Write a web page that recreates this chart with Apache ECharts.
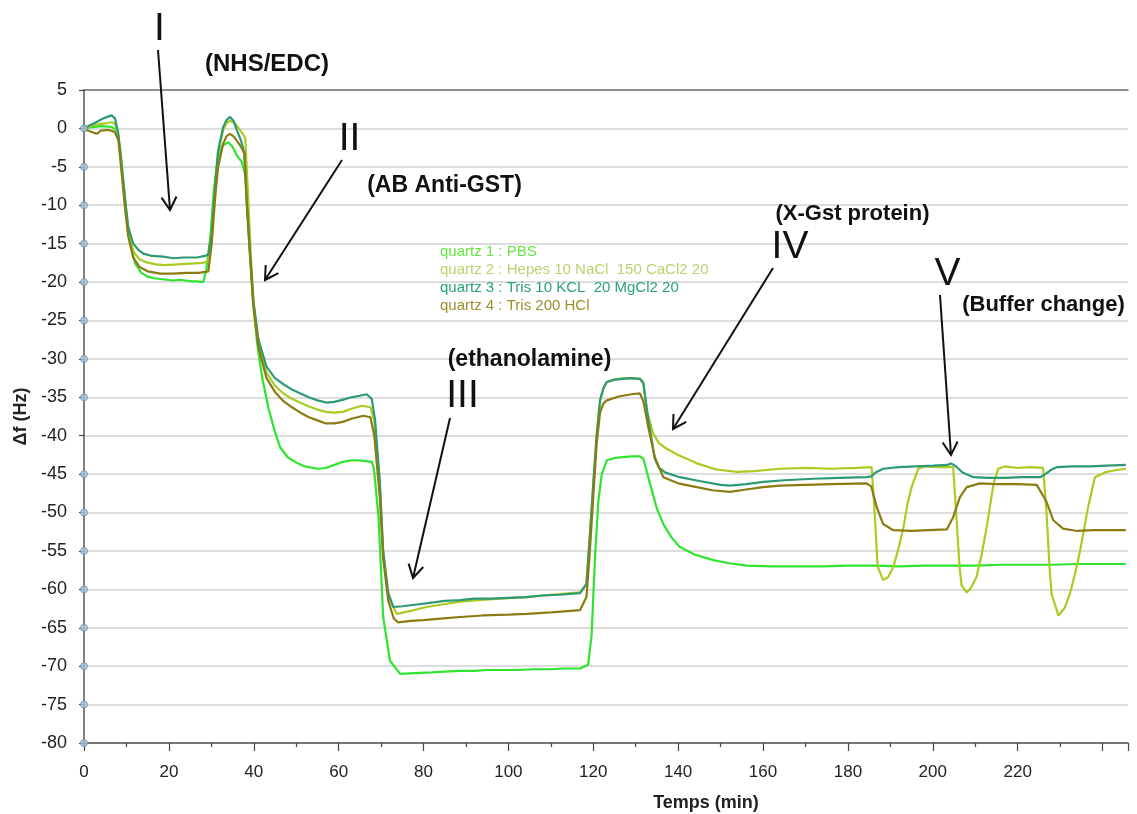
<!DOCTYPE html>
<html>
<head>
<meta charset="utf-8">
<script src="https://cdn.jsdelivr.net/npm/echarts@6/dist/echarts.min.js"></script>
<style>
html,body{margin:0;padding:0;background:#fff;}
#chart{width:1137px;height:814px;}
</style>
</head>
<body>
<div id="chart"></div>
<script>
// ---- data (time in min, Δf in Hz) ----
const seriesNames = [
  'quartz 1 : PBS',
  'quartz 2 : Hepes 10 NaCl  150 CaCl2 20',
  'quartz 3 : Tris 10 KCL  20 MgCl2 20',
  'quartz 4 : Tris 200 HCl'
];
const q1Data = [[0,0],[1,0.1],[2.5,0.2],[4,0.3],[6.5,0.2],[7.5,-0.2],[8.5,-2.5],[9.3,-7],[10.1,-11.5],[10.9,-15],[12,-17.5],[13.5,-18.8],[15,-19.3],[16.5,-19.5],[18,-19.6],[19.5,-19.7],[21,-19.8],[22.5,-19.7],[24,-19.8],[25.5,-19.9],[26.5,-19.9],[28.1,-20],[28.8,-18.5],[29.8,-14],[30.6,-8],[31.5,-4],[32.5,-2.3],[34,-1.8],[35,-2.4],[36,-3.5],[37.2,-4.4],[38.2,-6.5],[39,-15],[39.8,-22.5],[40.8,-28],[42,-32.5],[43.5,-36.5],[45,-39.5],[46.2,-41.5],[48,-42.8],[50,-43.5],[52,-44],[55,-44.3],[57,-44.2],[59,-43.8],[61,-43.4],[63,-43.2],[65,-43.2],[67.8,-43.4],[68.3,-44.2],[69.4,-50.6],[70.5,-63.6],[72.1,-69.3],[74.5,-71],[78,-70.9],[82,-70.8],[85,-70.7],[88.6,-70.6],[92,-70.6],[95,-70.5],[99,-70.5],[102,-70.5],[106,-70.4],[110,-70.4],[113,-70.3],[116.9,-70.3],[118.8,-69.8],[119.6,-66],[120.4,-56],[121.2,-48.5],[122,-45],[123.2,-43.2],[125,-42.9],[127,-42.8],[129,-42.7],[131,-42.7],[131.8,-43],[133.4,-46.3],[135,-49.5],[136.5,-51.5],[138.5,-53.3],[140.4,-54.5],[144,-55.5],[148.3,-56.2],[152,-56.6],[156.1,-56.9],[162,-57],[168,-57],[174,-57],[180,-56.9],[186.8,-56.9],[192,-57],[198,-56.9],[204,-56.9],[210,-56.9],[216,-56.8],[222,-56.8],[228,-56.8],[234,-56.7],[240,-56.7],[245.5,-56.7]];
const q2Data = [[0,0],[1,0.2],[2.2,0.4],[4,0.6],[5.5,0.7],[6.5,0.8],[7.3,0.6],[8.1,-1],[8.9,-5.5],[9.7,-10],[10.4,-13.5],[11.6,-16],[13,-17],[14.5,-17.4],[17,-17.7],[19,-17.8],[22,-17.7],[25,-17.6],[28,-17.5],[29.3,-17.3],[30.1,-14],[30.9,-7.5],[31.6,-3.2],[32.8,-0.2],[33.6,0.7],[34.4,1],[35.5,0.7],[36.5,0],[37.5,-0.8],[38,-1.2],[38.6,-8],[39.3,-16.5],[40,-23],[41.2,-28.2],[43,-31.8],[45,-33.5],[47,-34.5],[49,-35.2],[51,-35.7],[53,-36.2],[55,-36.6],[57,-36.9],[59,-37],[61,-36.9],[63,-36.5],[65.5,-36.1],[67.5,-36.3],[68.4,-38],[69.7,-46.5],[70.5,-55.5],[71.7,-61],[73.7,-63.2],[77,-62.8],[80.7,-62.3],[84,-62],[88.6,-61.6],[93,-61.4],[98,-61.2],[104,-61],[110,-60.7],[116.9,-60.4],[118.4,-59.3],[119.2,-53],[120,-46.3],[120.8,-40],[121.6,-35.4],[122.4,-33.8],[123.2,-33],[125,-32.7],[127,-32.5],[129,-32.5],[131,-32.6],[131.8,-33],[132.6,-36.7],[134.1,-39.7],[135.5,-41],[137.3,-41.7],[140,-42.5],[144.4,-43.6],[149,-44.4],[153.8,-44.7],[158,-44.6],[164,-44.3],[170,-44.2],[176,-44.3],[182,-44.2],[185.6,-44.1],[186.3,-50],[187,-57],[188.3,-58.8],[189.5,-58.4],[190.7,-57.1],[192,-54.5],[193.1,-51.9],[194,-49],[195,-46.7],[196.6,-44.3],[198,-44],[201,-44.1],[204.8,-44.1],[205.5,-50],[206.3,-57],[206.8,-59.5],[208,-60.4],[209,-59.8],[210.3,-58.4],[211.5,-55.5],[212.7,-51.9],[214.3,-46.3],[215.4,-44.3],[217,-44],[220,-44.2],[223,-44.1],[226,-44.2],[226.8,-50],[227.5,-57],[228,-60.6],[229.6,-63.4],[231,-62.5],[232.3,-60.6],[233.5,-58],[234.7,-55],[235.7,-52],[236.6,-49.3],[238.2,-45.4],[241,-44.7],[243,-44.5],[245.5,-44.3]];
const q3Data = [[0,0],[1,0.3],[2.2,0.6],[3.5,1],[4.5,1.3],[5.5,1.5],[6.5,1.7],[7.3,1.3],[8.1,-0.7],[8.9,-5],[9.7,-9.4],[10.4,-12.8],[11.6,-15],[12.8,-15.8],[14,-16.3],[16,-16.6],[18.7,-16.7],[21,-16.9],[23.5,-16.8],[26.6,-16.8],[28.5,-16.6],[29.3,-16.4],[30.1,-13.7],[30.9,-7.2],[31.6,-2.9],[32.8,0.2],[33.6,1.1],[34.4,1.5],[35.2,1],[36,-0.2],[37,-1.6],[37.8,-3.2],[38.3,-9],[39.1,-16],[39.9,-22.4],[41.1,-27.5],[43,-31],[45,-32.5],[47,-33.3],[49,-34],[51,-34.5],[53,-35],[55,-35.4],[57.2,-35.7],[59,-35.6],[61.1,-35.3],[63,-35],[65,-34.8],[66.6,-34.6],[67.8,-35.2],[68.6,-38],[69.7,-46],[70.5,-55],[71.7,-60.5],[72.9,-62.3],[75,-62.2],[78,-62],[81,-61.8],[85,-61.5],[88.6,-61.4],[92,-61.2],[96,-61.2],[100,-61.1],[104.3,-61],[108,-60.8],[112,-60.7],[116.9,-60.5],[118.4,-59.3],[119.2,-53],[120,-46.3],[120.8,-40],[121.6,-35.4],[122.4,-33.8],[123.2,-33],[125,-32.7],[127,-32.6],[129,-32.5],[131,-32.6],[131.8,-33.2],[133,-38],[134.5,-43],[135.5,-44.2],[137,-44.8],[140.4,-45.4],[145,-45.9],[150,-46.4],[152.2,-46.5],[156,-46.3],[160.1,-46],[165,-45.8],[171.8,-45.6],[178,-45.5],[184.4,-45.4],[185.5,-45.3],[186.5,-44.8],[188.3,-44.3],[192,-44.1],[196,-44],[200,-43.9],[203.5,-43.8],[204.3,-43.6],[205.5,-44],[207,-44.8],[209.6,-45.4],[213,-45.5],[217,-45.5],[221,-45.4],[225.3,-45.4],[226.5,-45],[228,-44.4],[229.2,-44.1],[233,-44],[237,-44],[241,-43.9],[245.5,-43.8]];
const q4Data = [[0,0],[1,-0.3],[2,-0.5],[3,-0.7],[4,-0.3],[5.5,-0.2],[6.5,-0.3],[7.3,-0.5],[8.1,-1.5],[8.9,-6],[9.7,-10.5],[10.4,-14],[11.6,-16.8],[13,-18],[15,-18.6],[18,-18.9],[21,-18.9],[24,-18.8],[27,-18.8],[29.3,-18.6],[30.1,-15],[30.9,-9],[31.6,-5],[32.8,-2],[33.6,-1],[34.4,-0.7],[35.2,-1],[36,-1.6],[37,-2.4],[37.8,-3.3],[38.3,-9.5],[39.1,-16.5],[39.9,-23],[41.1,-28.5],[43,-32.5],[45,-34.3],[47,-35.5],[49,-36.3],[51,-37],[53,-37.6],[55,-38],[57,-38.4],[59,-38.4],[61,-38.2],[63,-37.8],[65.8,-37.4],[67.5,-37.6],[68.4,-40],[69.7,-48],[70.5,-56],[71.7,-61.5],[73,-63.8],[74,-64.3],[77,-64.1],[80,-64],[84,-63.8],[88.6,-63.6],[94,-63.4],[100,-63.3],[104.3,-63.2],[110,-63],[116.9,-62.7],[118.4,-61],[119.2,-55],[120,-48],[120.8,-41],[121.6,-37],[122.4,-35.8],[123.2,-35.4],[126,-34.9],[129,-34.6],[131,-34.5],[131.8,-35.5],[133,-39],[134.5,-42.8],[136.5,-45.4],[140,-46.2],[144.4,-46.7],[148,-47.1],[152.2,-47.3],[156,-47],[160,-46.7],[164,-46.5],[170,-46.4],[176,-46.3],[184.4,-46.2],[185.5,-46.6],[186.8,-49.3],[188.3,-51.5],[190.7,-52.3],[195,-52.4],[199,-52.3],[203.3,-52.2],[204.8,-50.6],[206.4,-48],[208,-46.7],[211.1,-46.2],[215,-46.3],[220,-46.3],[224.5,-46.4],[226.8,-48.6],[228.4,-51],[230.7,-52.1],[234,-52.4],[238,-52.3],[242,-52.3],[245.5,-52.3]];
// y values carrying the round axis markers
const axisMarkerValues = [0,-5,-10,-15,-20,-25,-30,-35,-45,-50,-55,-60,-65,-70,-75,-80];

// ---- styling ----
const FONT = "'Liberation Sans', Arial, sans-serif";
const lineColors = ['#2fe42f', '#a9cc22', '#2e9a74', '#8a7c12'];
const legendColors = ['#62e83e', '#b8d46e', '#28a47a', '#a08c2c'];

const chart = echarts.init(document.getElementById('chart'), null, {renderer: 'canvas'});

const allData = [q1Data, q2Data, q3Data, q4Data];
const series = allData.map((d, i) => ({
  name: seriesNames[i],
  type: 'line',
  data: d,
  showSymbol: false,
  symbol: 'none',
  lineStyle: {color: lineColors[i], width: 2.2},
  itemStyle: {color: lineColors[i]},
  z: 3
}));
series.push({
  name: 'axisMarkers',
  type: 'scatter',
  data: axisMarkerValues.map(v => [0, v]),
  symbol: 'circle',
  symbolSize: 7,
  clip: false,
  itemStyle: {color: '#a9c3d7', borderColor: '#6f8fa9', borderWidth: 1},
  z: 5,
  silent: true
});

// annotation geometry (pixels)
const arrows = [
  [[158, 50], [170, 210]],
  [[342, 160], [265, 280]],
  [[450, 418], [413, 578]],
  [[773, 268], [673, 429]],
  [[940, 295], [951, 455]]
];
const numerals = [
  ['I', 159.5, 29], ['II', 349.5, 139], ['III', 462.5, 396], ['IV', 790, 247.5], ['V', 947.5, 274]
];
const labels = [
  ['(NHS/EDC)', 267, 64, 24], ['(AB Anti-GST)', 444.5, 186, 23], ['(ethanolamine)', 529.5, 360, 23],
  ['(X-Gst protein)', 852.5, 214, 22], ['(Buffer change)', 1043.5, 305, 22]
];

const graphics = [];
arrows.forEach(([s, t]) => {
  graphics.push({type: 'polyline', shape: {points: [s, t]}, style: {stroke: '#111', lineWidth: 2, fill: null}, z: 100});
  const ang = Math.atan2(t[1] - s[1], t[0] - s[0]);
  const L = 15, a = Math.PI / 6;
  const p1 = [t[0] - L * Math.cos(ang - a), t[1] - L * Math.sin(ang - a)];
  const p2 = [t[0] - L * Math.cos(ang + a), t[1] - L * Math.sin(ang + a)];
  graphics.push({type: 'polyline', shape: {points: [p1, t, p2]}, style: {stroke: '#111', lineWidth: 2, fill: null}, z: 100});
});
numerals.forEach(([txt, x, y]) => {
  graphics.push({type: 'text', x: x, y: y, z: 100, style: {text: txt, font: '39px ' + FONT, fill: '#111', textAlign: 'center', textVerticalAlign: 'middle'}});
});
labels.forEach(([txt, x, y, fs]) => {
  graphics.push({type: 'text', x: x, y: y, z: 100, style: {text: txt, font: 'bold ' + fs + 'px ' + FONT, fill: '#111', textAlign: 'center', textVerticalAlign: 'middle'}});
});
graphics.push({type: 'text', x: 706, y: 803, z: 100, style: {text: 'Temps (min)', font: 'bold 18px ' + FONT, fill: '#222', textAlign: 'center', textVerticalAlign: 'middle'}});

chart.setOption({
  animation: false,
  backgroundColor: '#ffffff',
  grid: {left: 84, right: 9, top: 90, bottom: 71, containLabel: false},
  legend: {
    orient: 'vertical',
    left: 430,
    top: 238,
    itemWidth: 0,
    itemHeight: 0,
    itemGap: 0,
    selectedMode: false,
    textStyle: {fontFamily: FONT, fontSize: 15, lineHeight: 18},
    data: seriesNames.map((n, i) => ({name: n, icon: 'none', textStyle: {color: legendColors[i]}}))
  },
  xAxis: [{
    type: 'value',
    min: 0,
    max: 246,
    interval: 20,
    axisLine: {show: true, onZero: false, lineStyle: {color: '#555', width: 1.5}},
    axisTick: {show: true, length: 8, lineStyle: {color: '#444', width: 1.2}},
    minorTick: {show: true, splitNumber: 2, length: 4, lineStyle: {color: '#444', width: 1.2}},
    splitLine: {show: false},
    axisLabel: {
      color: '#222', fontFamily: FONT, fontSize: 17, margin: 21,
      formatter: v => (v > 220 ? '' : String(v))
    }
  }, {
    type: 'value',
    position: 'top',
    min: 0,
    max: 246,
    axisLine: {show: true, onZero: false, lineStyle: {color: '#777', width: 1.5}},
    axisTick: {show: false},
    axisLabel: {show: false},
    splitLine: {show: false}
  }],
  yAxis: {
    type: 'value',
    min: -80,
    max: 5,
    interval: 5,
    name: 'Δf (Hz)',
    nameLocation: 'middle',
    nameGap: 51,
    nameTextStyle: {fontFamily: FONT, fontSize: 18, fontWeight: 'bold', color: '#222'},
    axisLine: {show: true, onZero: false, lineStyle: {color: '#555', width: 1.5}},
    axisTick: {show: true, length: 5, lineStyle: {color: '#444', width: 1.2}},
    splitLine: {show: true, lineStyle: {color: '#d2d2d2', width: 1.5}},
    axisLabel: {color: '#222', fontFamily: FONT, fontSize: 18, margin: 17}
  },
  series: series,
  graphic: graphics
});
</script>
</body>
</html>
